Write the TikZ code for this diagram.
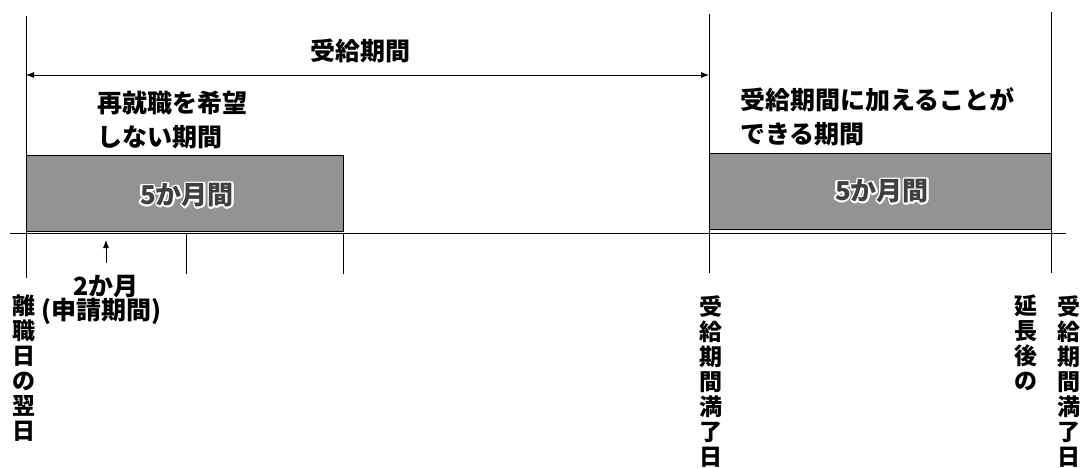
\documentclass[tikz,border=0pt]{standalone}
\usepackage{fontspec}
\setmainfont{Noto Sans CJK JP}
\usepackage[copies]{contour}
\usetikzlibrary{calc,positioning,arrows.meta}
\newcommand\vtight{\setlength{\lineskiplimit}{-20pt}}

\begin{document}
\begin{tikzpicture}[x=1pt,y=-1pt,
edge/.style={thick},
period/.style={rectangle, draw, thick, fill=gray!85, inner sep=0pt},
info/.style={draw=none,fill=none,inner sep=0pt,font=\fontsize{25}{34}\selectfont\bfseries},
vinfo/.style={info,anchor=north,align=center,font=\fontsize{23}{25}\selectfont\bfseries\vtight},
tip/.style={-{Latex[length=8pt,width=6pt]}}]

%% local variables
\def \xs {26}
\def \xe {709}
\def \xx {1051}
\def \base {233}

\useasboundingbox (0,0) rectangle (1084,468);

%% main vertical lines
\coordinate (S-top) at (\xs,16);
\coordinate (S-bot) at (\xs,278);
\coordinate (E-top) at (\xe,14);
\coordinate (E-bot) at (\xe,273);
\coordinate (X-top) at (\xx,12);
\coordinate (X-bot) at (\xx,273);
\draw[edge] (S-top) -- (S-bot);
\draw[edge] (E-top) -- (E-bot);
\draw[edge] (X-top) -- (X-bot);

%% time axis
\coordinate (axis-l) at (10,\base);
\coordinate (axis-r) at (1066,\base);
\draw[edge] (axis-l) -- (axis-r);

%% small ticks
\foreach \t in {186,343}
{
  \coordinate (T-\t-a) at (\t,\base);
  \coordinate (T-\t-b) at (\t,274);
  \draw[edge] (T-\t-a) -- (T-\t-b);
}

%% whole period arrow
\coordinate (A-l) at (\xs,75);
\coordinate (A-r) at (\xe,75);
\draw[edge,{Latex[length=8pt,width=6pt]}-{Latex[length=8pt,width=6pt]}] (A-l) -- (A-r);
\node[info] (whole) at (360,51) {受給期間};

%% shaded periods
\node[period, minimum width=317, minimum height=76] (P-1) at ({(\xs+343)/2},193) {};
\node[period, minimum width=342, minimum height=76] (P-2) at ({(\xe+\xx)/2},191) {};
\contourlength{1.6pt}
\node[info,font=\fontsize{26}{28}\selectfont\bfseries,text=black!75] (M-1) at (187,196) {\contour{white}{5か月間}};
\node[info,font=\fontsize{26}{28}\selectfont\bfseries,text=black!75] (M-2) at (882,192) {\contour{white}{5か月間}};

%% period captions
\node[info,anchor=north west,align=left] (no-job) at (97,91) {再就職を希望\\しない期間};
\node[info,anchor=north west,align=left] (extra) at (740,87) {受給期間に加えることが\\できる期間};

%% application window
\coordinate (W-b) at (106,263);
\coordinate (W-t) at (106,240);
\draw[edge,tip] (W-b) -- (W-t);
\node[info] (two) at (106,287) {2か月};
\node[info,anchor=west] (apply) at (41,311) {(申請期間)};

%% vertical labels
\node[vinfo] (V-1) at (24,295) {離\\職\\日\\の\\翌\\日};
\node[vinfo] (V-2) at (711,295) {受\\給\\期\\間\\満\\了\\日};
\node[vinfo] (V-3) at (1026,295) {延\\長\\後\\の};
\node[vinfo] (V-4) at (1069,295) {受\\給\\期\\間\\満\\了\\日};

\end{tikzpicture}
\end{document}
